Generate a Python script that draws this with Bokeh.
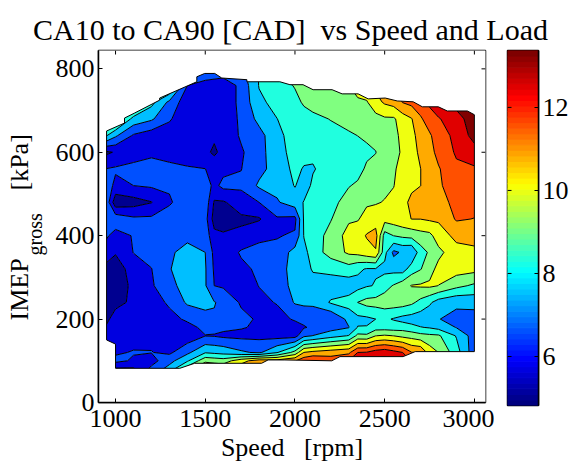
import numpy as np
from bokeh.plotting import figure
from bokeh.layouts import row, column
from bokeh.models import Label, FixedTicker, Range1d
from bokeh.embed import file_html
from bokeh.resources import INLINE

TITLE = "CA10 to CA90 [CAD] \u00a0vs Speed and Load"
XLABEL = "Speed \u00a0 [rpm]"
x_ticks = [1000, 1500, 2000, 2500, 3000]
y_ticks = [0, 200, 400, 600, 800]
cb_ticks = [6, 8, 10, 12]

speed = [950, 1000, 1100, 1200, 1300, 1400, 1500, 1550, 1600, 1700, 1800, 1900, 2000, 2050,
         2100, 2200, 2300, 2350, 2400, 2450, 2500, 2550, 2600, 2650, 2700, 2750, 2800, 2900, 3000]
imep = [800, 760, 720, 680, 640, 600, 560, 520, 480, 440, 400, 360, 320, 280, 240, 200, 180, 160, 120, 100, 80]

s0950 = [10, 10, 10, 9.5, 8.0, 5.5, 6.42, 6.8, 6.9, 6.8, 6.5, 6.0, 5.4, 5.2, 5.3, 5.5, 5.7, 5.9, 6.0, 6.0, 6.0]
s1000 = [10, 10, 10, 9.3, 7.3, 5.7, 6.5, 6.2, 5.1, 6.9, 6.1, 5.7, 5.2, 5.1, 5.45, 5.9, 6.0, 6.1, 6.3, 6.6, 5.5]
s1100 = [10, 10, 9.5, 7.7, 6.3, 6.0, 6.65, 6.4, 5.3, 6.55, 6.45, 6.42, 6.0, 5.85, 5.75, 6.0, 6.05, 6.1, 6.45, 6.3, 5.5]
s1200 = [10, 9.5, 8.2, 7.3, 5.95, 6.3, 6.6, 6.5, 5.6, 6.55, 6.7, 6.65, 6.38, 6.3, 6.1, 6.15, 6.2, 6.25, 6.42, 6.1, 6.6]
s1300 = [9.5, 9, 7.0, 6.5, 5.95, 6.1, 6.6, 6.5, 6.3, 6.8, 7.0, 7.1, 7.15, 6.95, 6.5, 6.2, 6.05, 5.95, 6.25, 6.9, 7.5]
s1400 = [8, 6.4, 5.9, 5.8, 5.8, 5.9, 6.5, 6.7, 6.85, 6.95, 7.05, 7.35, 7.45, 7.5, 7.3, 6.5, 6.2, 5.9, 7.0, 7.85, 9.2]
s1500 = [7.5, 5.9, 5.9, 5.8, 5.8, 5.8, 6.41, 6.8, 6.9, 6.7, 6.85, 7.18, 7.25, 7.25, 7.25, 7.1, 6.55, 6.38, 7.9, 9.3, 10.5]
s1550 = [7.2, 5.9, 5.9, 5.85, 5.75, 5.5, 6.1, 6.2, 5.55, 5.3, 5.85, 6.2, 6.3, 6.4, 7.22, 7.1, 6.6, 6.35, 7.8, 9.2, 10.3]
s1600 = [7, 5.9, 5.9, 5.85, 5.85, 5.85, 6.2, 6.6, 5.55, 5.2, 5.75, 5.85, 6.0, 6.3, 7.0, 7.0, 6.55, 6.25, 7.7, 9.1, 10.2]
s1700 = [7, 6.6, 6.6, 6.55, 6.5, 6.3, 6.38, 6.55, 6.0, 5.5, 5.8, 6.5, 6.2, 6.0, 6.3, 6.6, 6.45, 6.2, 7.3, 10.0, 10.8]
s1800 = [8, 8, 7.8, 7.4, 6.9, 6.9, 6.95, 7.3, 6.4, 5.55, 6.25, 6.6, 6.55, 6.42, 6.2, 6.3, 6.3, 6.2, 7.05, 10.7, 11]
s1900 = [9, 8.3, 8.2, 7.95, 7.75, 7.65, 7.5, 7.4, 7.1, 6.3, 6.35, 6.6, 6.7, 6.65, 6.45, 6.1, 5.95, 6.1, 7.9, 10.6, 11.2]
s2000 = [9, 8.8, 8.5, 8.35, 8.3, 8.25, 8.15, 8.0, 7.6, 6.2, 6.5, 7.5, 7.6, 7.5, 7.25, 6.5, 6.05, 6.1, 9.0, 11, 11.5]
s2050 = [9, 9.0, 8.85, 8.4, 8.3, 8.2, 7.9, 7.6, 8.0, 8.05, 8.0, 7.7, 7.6, 7.5, 7.35, 6.55, 6.35, 7.0, 10.3, 11.6, 11.8]
s2100 = [9, 9, 9.1, 8.5, 8.3, 8.1, 7.9, 8.1, 8.2, 8.3, 8.35, 8.35, 8.05, 7.6, 7.3, 6.8, 6.5, 7.2, 10.5, 11.9, 12]
s2200 = [9.2, 9.3, 9.2, 8.78, 8.4, 8.3, 8.3, 8.35, 8.5, 8.7, 9.0, 9.05, 8.2, 7.5, 8.05, 6.42, 6.85, 7.65, 10.7, 11.5, 11.8]
s2300 = [9.5, 9.5, 9.4, 9.1, 8.6, 8.35, 8.4, 8.7, 9.05, 9.4, 9.8, 9.65, 8.4, 7.5, 8.3, 7.4, 7.15, 8.0, 10.9, 11.9, 12]
s2350 = [9.8, 9.8, 9.4, 9.1, 8.75, 8.4, 8.5, 8.85, 9.2, 9.45, 9.95, 9.75, 8.1, 7.7, 8.75, 7.75, 8.0, 8.95, 11.85, 12.2, 12.3]
s2400 = [10, 10, 9.45, 9.1, 8.85, 8.6, 8.85, 9.15, 9.4, 9.8, 10.35, 10.0, 7.9, 7.9, 9.0, 7.8, 8.0, 8.9, 11.9, 12.3, 12.3]
s2450 = [10.5, 10.5, 10.0, 9.25, 8.95, 8.72, 8.95, 9.25, 9.45, 9.9, 10.6, 10.2, 7.9, 8.0, 9.05, 7.96, 8.4, 9.5, 12.2, 12.8, 12.9]
s2500 = [11, 10.5, 10.4, 9.4, 9.3, 9.2, 9.25, 9.35, 9.55, 9.8, 8.4, 8.2, 7.75, 8.45, 9.15, 8.1, 8.4, 9.6, 12.35, 12.9, 13]
s2550 = [11.2, 11, 10.6, 9.4, 9.3, 9.3, 9.4, 9.48, 9.75, 9.9, 8.75, 7.0, 7.7, 8.8, 9.15, 7.9, 8.35, 9.5, 12.1, 12.6, 12.7]
s2600 = [11.5, 11.5, 11.1, 9.9, 9.7, 9.6, 9.8, 10.0, 10.15, 10.1, 8.9, 7.3, 7.6, 9.2, 9.1, 7.7, 8.4, 9.3, 11.85, 12.4, 12.5]
s2650 = [11.7, 11.7, 11.3, 10.25, 10.0, 9.9, 10.0, 10.2, 10.4, 10.3, 9.0, 7.2, 8.35, 9.55, 8.9, 7.6, 8.2, 9.2, 11.1, 11.8, 11.8]
s2700 = [12, 12, 11.6, 10.95, 10.7, 10.5, 10.28, 10.28, 10.7, 10.3, 9.2, 8.4, 8.7, 9.6, 8.5, 7.5, 8.0, 9.0, 11.0, 11.5, 11.5]
s2750 = [12.2, 12.2, 12.0, 11.5, 10.95, 10.8, 10.7, 10.7, 10.7, 10.4, 9.3, 8.85, 9.2, 9.65, 8.1, 7.35, 7.9, 8.9, 9.95, 10, 10]
s2800 = [12.5, 12.5, 12.3, 11.8, 11.5, 11.3, 11.0, 10.95, 10.7, 10.4, 9.9, 9.3, 9.75, 9.5, 7.6, 7.2, 7.7, 8.85, 9.5, 9.6, 9.6]
s2900 = [13, 13, 13, 12.2, 12.05, 11.95, 11.7, 11.5, 11.35, 11.15, 10.5, 10.0, 9.85, 8.95, 7.3, 7.0, 7.15, 7.9, 8.3, 8.3, 8.3]
s3000 = [13.4, 13.4, 13.4, 13.2, 12.9, 12.3, 11.75, 11.6, 11.35, 11.05, 10.6, 10.1, 9.75, 8.6, 7.4, 6.9, 6.85, 6.8, 6.7, 6.7, 6.7]

columns = [s0950, s1000, s1100, s1200, s1300, s1400, s1500, s1550, s1600, s1700, s1800, s1900, s2000, s2050,
           s2100, s2200, s2300, s2350, s2400, s2450, s2500, s2550, s2600, s2650, s2700, s2750, s2800, s2900, s3000]

# measured operating envelope of the map
env_speed = [950, 1050, 1050, 1106, 1246, 1246, 1453, 1453, 1497, 1553, 1592, 1732, 1732, 1916, 1972, 2045, 2101,
             2207, 2263, 2352, 2408, 2503, 2570, 2659, 2710, 2799, 2849, 2961, 3000, 3000, 2670, 2603, 2251, 2205,
             1944, 1850, 1814, 1441, 1358, 1000, 1000, 950]
env_imep = [651, 670, 682, 694, 725, 730, 769, 781, 789, 789, 778, 774, 769, 769, 762, 762, 750,
            750, 740, 740, 728, 730, 723, 721, 709, 709, 699, 699, 690, 122, 122, 110, 110, 100,
            102, 102, 94, 94, 82, 82, 140, 150]

levels = [4.85, 5.63, 6.40, 7.18, 7.96, 8.74, 9.51, 10.29, 11.07, 11.85, 12.62, 13.5]
band_colors = ["#000090", "#0000E0", "#0050FF", "#00BFFF", "#20FFDF", "#80FF80",
               "#EFFF10", "#FFAA00", "#FF5000", "#E00000", "#800000"]

SERIF = "Liberation Serif"
TICK_PX = "26px"

x0, x1 = 905, 3062
y0, y1 = 0, 844

head = figure(width=569, height=47, x_range=Range1d(0, 569), y_range=Range1d(0, 47),
              min_border_left=0, min_border_right=0, min_border_top=0, min_border_bottom=0,
              output_backend="svg", toolbar_location=None)
head.axis.visible = False
head.grid.visible = False
head.outline_line_color = None
head.add_layout(Label(x=290, y=18, x_units="screen", y_units="screen", text=TITLE, text_font=SERIF,
                      text_font_size="30px", text_align="center", text_baseline="alphabetic", text_color="black"))

side = figure(width=48, height=417, x_range=Range1d(0, 48), y_range=Range1d(0, 417),
              min_border_left=0, min_border_right=0, min_border_top=0, min_border_bottom=0,
              output_backend="svg", toolbar_location=None)
side.axis.visible = False
side.grid.visible = False
side.outline_line_color = None
for txt, x, y, size in (("IMEP", 19, 82, "26px"), ("gross", 34, 147, "20px"), ("[kPa]", 19, 212, "26px")):
    side.add_layout(Label(x=x, y=y, x_units="screen", y_units="screen", text=txt, angle=90, angle_units="deg",
                          text_font=SERIF, text_font_size=size, text_baseline="alphabetic", text_align="left",
                          text_color="black"))

p = figure(width=446, height=417, x_range=Range1d(x0, x1), y_range=Range1d(y0, y1),
           frame_width=387, frame_height=352, min_border_left=50, min_border_right=9,
           min_border_top=3, min_border_bottom=62, output_backend="svg", toolbar_location=None)
p.grid.visible = False
p.outline_line_color = "black"
p.outline_line_width = 1.5

z = np.column_stack(columns)[::-1]
p.contour(speed, imep[::-1], z, levels=levels, fill_color=band_colors, line_color="black", line_width=1)

# white surround: nothing was measured outside the envelope
pad = 50
p.multi_polygons(xs=[[[[x0 - pad, x1 + pad, x1 + pad, x0 - pad], env_speed]]],
                 ys=[[[[y0 - pad, y0 - pad, y1 + pad, y1 + pad], env_imep]]],
                 fill_color="white", line_color=None)
p.line(env_speed + env_speed[:1], env_imep + env_imep[:1], line_color="black", line_width=1)

# inward ticks on the top and right edges of the box
tick_x = 4 * (x1 - x0) / 387
tick_y = 4 * (y1 - y0) / 352
p.segment(x0=x_ticks, y0=[y1] * len(x_ticks), x1=x_ticks, y1=[y1 - tick_y] * len(x_ticks), line_color="black", line_width=1)
p.segment(x0=[x1] * len(y_ticks), y0=y_ticks, x1=[x1 - tick_x] * len(y_ticks), y1=y_ticks, line_color="black", line_width=1)

for ax, ticks in ((p.xaxis[0], x_ticks), (p.yaxis[0], y_ticks)):
    ax.ticker = FixedTicker(ticks=ticks)
    ax.major_label_text_font = SERIF
    ax.major_label_text_font_size = TICK_PX
    ax.major_label_text_color = "black"
    ax.major_tick_in = 4
    ax.major_tick_out = 0
    ax.minor_tick_line_color = None
    ax.axis_line_width = 1.5
    ax.axis_line_color = "black"
    ax.major_tick_line_color = "black"
    ax.major_tick_line_width = 1
p.xaxis[0].major_label_standoff = 7
p.yaxis[0].major_label_standoff = 4
p.xaxis[0].axis_label = XLABEL
p.xaxis[0].axis_label_text_font = SERIF
p.xaxis[0].axis_label_text_font_size = "26px"
p.xaxis[0].axis_label_text_font_style = "normal"
p.xaxis[0].axis_label_text_color = "black"
p.xaxis[0].axis_label_standoff = 3

cb_low, cb_high = 4.82, 13.37
n = 64
t = np.linspace(0, 1, n)
r = np.clip(np.minimum(4 * t - 1.5, 4.5 - 4 * t), 0, 1)
g = np.clip(np.minimum(4 * t - 0.5, 3.5 - 4 * t), 0, 1)
b = np.clip(np.minimum(4 * t + 0.5, 2.5 - 4 * t), 0, 1)
jet = ["#%02X%02X%02X" % (int(a * 255), int(c * 255), int(d * 255)) for a, c, d in zip(r, g, b)]
edges = np.linspace(4.82, 13.37, n + 1)

cb = figure(width=74, height=417, x_range=Range1d(0, 1), y_range=Range1d(cb_low, cb_high),
            frame_width=31, frame_height=355, min_border_left=13, min_border_right=30,
            min_border_top=3, min_border_bottom=59, output_backend="svg", toolbar_location=None,
            y_axis_location="right")
cb.quad(left=0, right=1, bottom=edges[:-1], top=edges[1:], fill_color=jet, line_color=jet)
cb.segment(x0=[0] * len(cb_ticks), y0=cb_ticks, x1=[4 / 31] * len(cb_ticks), y1=cb_ticks, line_color="black", line_width=1)
cb.grid.visible = False
cb.xaxis.visible = False
cb.outline_line_color = "black"
cb.outline_line_width = 1.5
ay = cb.yaxis[0]
ay.ticker = FixedTicker(ticks=cb_ticks)
ay.major_label_text_font = SERIF
ay.major_label_text_font_size = TICK_PX
ay.major_label_text_color = "black"
ay.major_label_standoff = 4
ay.major_tick_in = 4
ay.major_tick_out = 0
ay.minor_tick_line_color = None
ay.axis_line_width = 1.5
ay.axis_line_color = "black"
ay.major_tick_line_color = "black"

layout = column(head, row(side, p, cb, spacing=0), spacing=0)
open("out.html", "w").write(file_html(layout, INLINE))
